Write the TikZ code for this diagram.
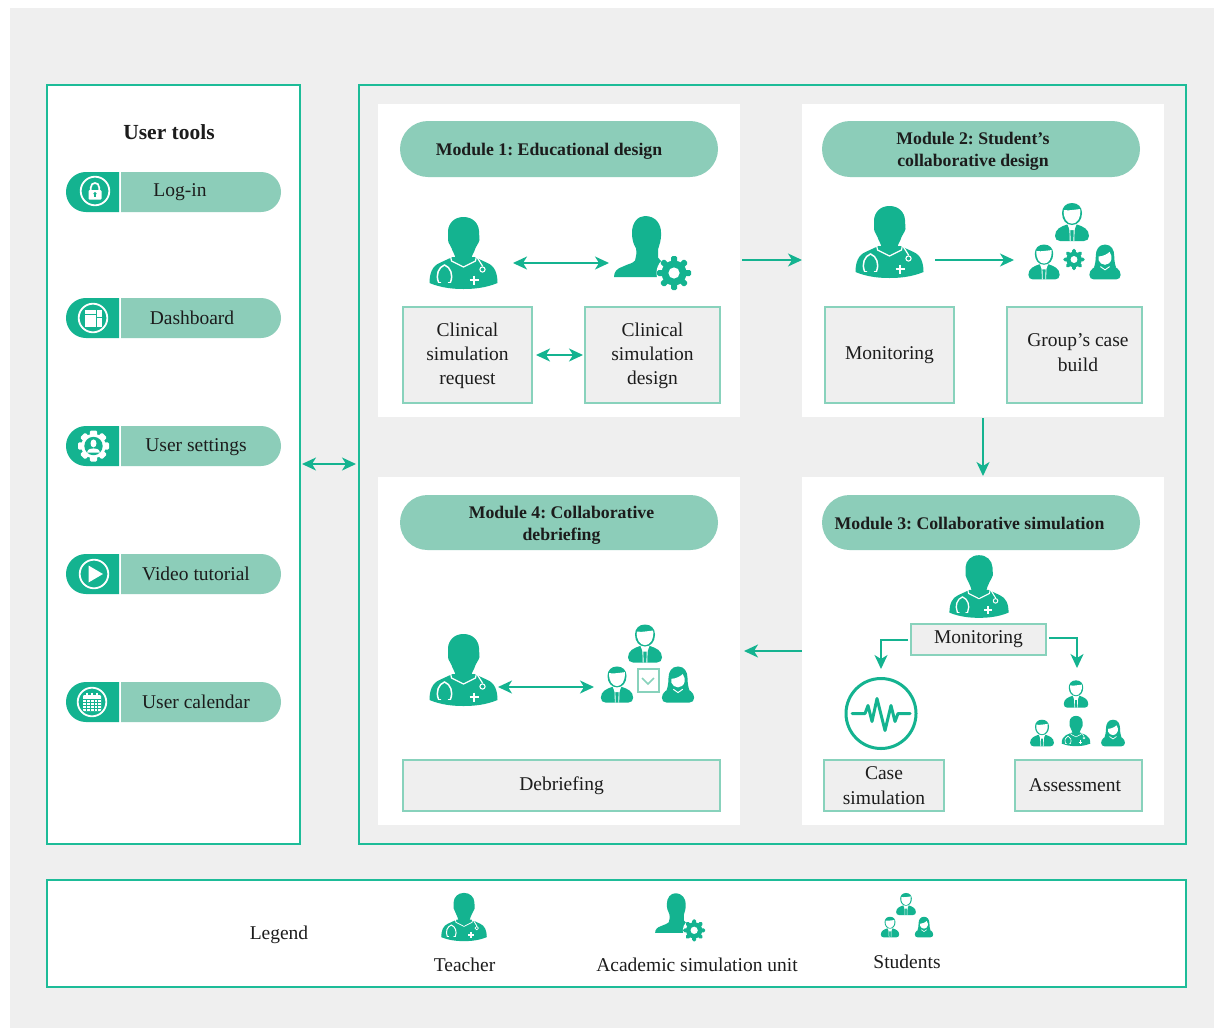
\documentclass[tikz,border=0pt]{standalone}
\usepackage{fontspec}
\setmainfont{Liberation Serif}
\usetikzlibrary{arrows.meta,shapes.misc}
\definecolor{tealc}{HTML}{14B390}
\definecolor{mint}{HTML}{8CCDB9}
\definecolor{edgec}{HTML}{1DBC98}
\definecolor{boxedge}{HTML}{88D2BC}
\definecolor{bgc}{HTML}{EFEFEF}
\definecolor{txt}{HTML}{1C1C1C}
\tikzset{
  body/.style={font=\fontsize{19.5}{24.3}\selectfont,text=txt,align=center,inner sep=0pt},
  headb/.style={font=\frenchspacing\bfseries\fontsize{17.75}{22}\selectfont,text=txt,align=center,inner sep=0pt},
  panel/.style={draw=edgec,line width=1.7pt,fill=white},
  mainpanel/.style={draw=edgec,line width=1.7pt,fill=bgc},
  modpanel/.style={draw=white,line width=1.7pt,fill=white},
  cbox/.style={draw=boxedge,line width=1.7pt,fill=bgc,body},
  modpill/.style={rounded rectangle,draw=mint,line width=1.7pt,fill=mint},
  toolpill/.style={rounded rectangle,rounded rectangle west arc=none,draw=mint,line width=1.7pt,fill=mint},
  conn/.style={draw=tealc,line width=1.6pt},
  one/.style={conn,-{Stealth[length=14pt,width=13pt,inset=4pt]}},
  both/.style={conn,{Stealth[length=14pt,width=13pt,inset=4pt]}-{Stealth[length=14pt,width=13pt,inset=4pt]}},
  ic/.style={fill=tealc},
  wl/.style={draw=white,line cap=round,line join=round},
}
\newcommand\bx[7][]{%
  \pgfmathsetmacro\cxx{(#3+#5)/2}\pgfmathsetmacro\cyy{(#4+#6)/2}%
  \node[#1,minimum width={(#5-#3-1.7)*1pt},minimum height={(#6-#4-1.7)*1pt},inner sep=0pt] (#2) at (\cxx,\cyy) {#7};}
% teacher
\newcommand\teacher[3]{\begin{scope}[shift={(#1,#2)},scale=#3]
  \fill[ic] (-34,30) .. controls (-34,20) and (-31,13) .. (-24,10) -- (-11,4) -- (11,4) -- (24,10)
     .. controls (31,13) and (34,20) .. (34,30) .. controls (22,35) and (10,36) .. (0,36)
     .. controls (-10,36) and (-22,35) .. (-34,30) -- cycle;
  \draw[wl,line width=#3*1.2pt] (-13,3) -- (-12,8) -- (0,14) -- (12,8) -- (13,3);
  \fill[ic] (0,-36) .. controls (9,-36) and (15,-30) .. (15.5,-22) -- (16,-13) .. controls (15,-9) and (13,-8) .. (12,-5)
     .. controls (11,-1) and (8,2) .. (8,6) -- (0,13) -- (-8,6) .. controls (-8,2) and (-11,-1) .. (-12,-5)
     .. controls (-13,-8) and (-15,-9) .. (-15.5,-13) -- (-15.5,-22) .. controls (-15,-30) and (-9,-36) .. (0,-36) -- cycle;
  \draw[wl,line width=#3*1.5pt] (-19,12) .. controls (-25,14) and (-28,22) .. (-25,29);
  \draw[wl,line width=#3*1.5pt] (-19,12) .. controls (-13,14) and (-10,22) .. (-13,29);
  \draw[wl,line width=#3*1.5pt] (-25,29.5) -- (-23,29.5) (-15,29.5) -- (-13,29.5);
  \draw[wl,line width=#3*1.2pt] (14,5) -- (19,13);
  \draw[wl,line width=#3*1.1pt] (19,16.5) circle (2.6);
  \draw[white,line width=#3*2.6pt] (6,27) -- (15,27) (10.5,22.5) -- (10.5,31.5);
\end{scope}}
% gear
\newcommand\gear[5]{\begin{scope}[shift={(#1,#2)},scale=#3]
  \fill[#4] (0,0) circle (12.5);
  \foreach \a in {0,45,...,315}{\fill[#4,rotate=\a,rounded corners=1.5pt] (-3,-17) rectangle (3,-8);}
  \fill[#5] (0,0) circle (5.6);
\end{scope}}
% academic unit
\newcommand\admin[3]{\begin{scope}[shift={(#1,#2)},scale=#3]
  \fill[ic] (-8,-36.5) .. controls (3,-36.5) and (8,-28) .. (8,-20) .. controls (8.5,-12) and (6,-7) .. (5,-3)
     -- (5,5) .. controls (8,9) and (12,12) .. (15,15) -- (6,24.5) -- (-39,24.5) .. controls (-39,19) and (-36,16) .. (-30,14)
     .. controls (-24,11) and (-20,11) .. (-18,8) .. controls (-17,4) and (-16,0) .. (-17,-4)
     .. controls (-20,-9) and (-21,-14) .. (-21,-20) .. controls (-21,-30) and (-15,-36.5) .. (-8,-36.5) -- cycle;
  \fill[white] (21,20.5) circle (17.5);
  \gear{21}{20.5}{1}{tealc}{white}
\end{scope}}
% male student
\newcommand\male[3]{\begin{scope}[shift={(#1,#2)},scale=#3]
  \fill[ic] (-17,14) .. controls (-17,7) and (-11,4.5) .. (-5,2.5) -- (5,2.5) .. controls (11,4.5) and (17,7) .. (17,14)
     .. controls (17,17) and (15,19) .. (12,19) -- (-12,19) .. controls (-15,19) and (-17,17) .. (-17,14) -- cycle;
  \fill[white] (-5,1) -- (5,1) -- (2.4,8) -- (-2.4,8) -- cycle;
  \draw[white,line width=#3*.9pt] (-2.2,7) -- (-1.8,19) (2.2,7) -- (1.8,19);
  \fill[ic] (0,-19) .. controls (6,-19) and (10,-15) .. (10,-9) .. controls (10,-2) and (6,3) .. (0,3)
     .. controls (-6,3) and (-10,-2) .. (-10,-9) .. controls (-10,-15) and (-6,-19) .. (0,-19) -- cycle;
  \fill[white] (-8.2,-12) .. controls (-5,-12) and (-2,-11) .. (0,-12) .. controls (3,-12) and (6,-13) .. (8.2,-13)
     .. controls (9,-4) and (5,1.7) .. (0,1.7) .. controls (-5,1.7) and (-9,-4) .. (-8.2,-12) -- cycle;
\end{scope}}
% female student
\newcommand\female[3]{\begin{scope}[shift={(#1,#2)},scale=#3]
  \fill[ic] (-17,14) .. controls (-17,8) and (-11,5) .. (-6,3) -- (6,3) .. controls (11,5) and (17,8) .. (17,14)
     .. controls (17,17) and (15,19) .. (12,19) -- (-12,19) .. controls (-15,19) and (-17,17) .. (-17,14) -- cycle;
  \fill[ic] (0,-19) .. controls (7,-19) and (10,-13) .. (10,-7) .. controls (10,-1) and (11,3) .. (12,6)
     -- (-12,6) .. controls (-11,3) and (-10,-1) .. (-10,-7) .. controls (-10,-13) and (-7,-19) .. (0,-19) -- cycle;
  \fill[white] (-7,-6) .. controls (-2,-6) and (3,-9) .. (5,-11) .. controls (7,-8) and (7.5,-5) .. (7,-3)
     .. controls (6,1) and (3,3) .. (0,3) .. controls (-3,3) and (-6,1) .. (-7,-2) -- cycle;
  \draw[white,line width=#3*1pt] (-5,5) -- (0,8.5) -- (5,5);
\end{scope}}
\newcommand\toolcap[2]{\fill[tealc] (119,#1) [rounded corners=19.9pt] -- (66,#1) -- (66,#2) [sharp corners] -- (119,#2) -- cycle;}
\begin{document}
\begin{tikzpicture}[x=1pt,y=-1pt]
\useasboundingbox (0,0) rectangle (1214,1028);
\fill[white] (0,0) rectangle (1214,1028);
\fill[bgc] (10,8) rectangle (1214,1028);
% panels
\bx[panel]{tools}{46}{84}{301}{845}{}
\bx[mainpanel]{main}{358}{84}{1187}{845}{}
\bx[modpanel]{mod1}{378}{104}{740}{417}{}
\bx[modpanel]{mod2}{802}{104}{1164}{417}{}
\bx[modpanel]{mod4}{378}{477}{740}{825}{}
\bx[modpanel]{mod3}{802}{477}{1164}{825}{}
\bx[panel]{legend}{46}{879}{1187}{988}{}
% user tools
\node[body,font=\bfseries\fontsize{21.5}{25}\selectfont] (tt) at (169,132) {User tools};
\coordinate (c1) at (95,191); \coordinate (c2) at (93,318); \coordinate (c3) at (93.5,446); \coordinate (c4) at (94,574); \coordinate (c5) at (92,702);
\toolcap{172}{212}\toolcap{298}{338}\toolcap{426}{466}\toolcap{554}{594}\toolcap{682}{722}
\draw[white,line width=1.8pt] (c1) circle (14.3) (c2) circle (14.3) (c4) circle (14.3) (c5) circle (14.3);
\bx[toolpill]{p1}{121}{172}{281}{212}{}
\bx[toolpill]{p2}{121}{298}{281}{338}{}
\bx[toolpill]{p3}{121}{426}{281}{466}{}
\bx[toolpill]{p4}{121}{554}{281}{594}{}
\bx[toolpill]{p5}{121}{682}{281}{722}{}
\node[body] (l1) at (180,192) {Log-in};
\node[body] (l2) at (192,317.5) {Dashboard};
\node[body] (l3) at (196,447.5) {User settings};
\node[body] (l4) at (196,574) {Video tutorial};
\node[body] (l5) at (196,702) {User calendar};
% lock
\begin{scope}[shift={(c1)}]
  \draw[white,line width=1.7pt] (-4.2,0) -- (-4.2,-3.5) .. controls (-4.2,-9.5) and (4.2,-9.5) .. (4.2,-3.5) -- (4.2,0);
  \fill[white,rounded corners=1pt] (-6.5,-1) rectangle (6.5,8.5);
  \fill[tealc] (0,2.6) circle (1.7); \fill[tealc] (-.8,2.6) rectangle (.8,6);
\end{scope}
% dashboard
\begin{scope}[shift={(c2)}]
  \fill[white] (-8,-8) rectangle (2.5,-4.5);
  \fill[white] (-8,-3) rectangle (2.5,8.5);
  \fill[white] (4,-8) rectangle (9,-1.5);
  \fill[white] (4,0) rectangle (9,8.5);
\end{scope}
% settings
\begin{scope}[shift={(c3)}]
  \foreach \a in {0,45,...,315}{\fill[white,rotate=\a,rounded corners=1.2pt] (-3.6,-15.5) rectangle (3.6,-8);}
  \fill[white] (0,0) circle (12.2);
  \fill[tealc] (0,0) circle (9.2);
  \fill[white] (0,-2.6) ellipse (3 and 4);
  \fill[white] (-6.5,6.5) .. controls (-5.5,2.8) and (-3,2.4) .. (0,2.4) .. controls (3,2.4) and (5.5,2.8) .. (6.5,6.5) -- cycle;
\end{scope}
% play
\fill[white,shift={(c4)}] (-5.5,-8.5) -- (9,0) -- (-5.5,8.5) -- cycle;
% calendar
\begin{scope}[shift={(c5)}]
  \fill[white,rounded corners=1pt] (-9,-7) rectangle (9,9);
  \draw[tealc,line width=.5pt] (-9,-3) -- (9,-3) (-9,.2) -- (9,.2) (-9,3.2) -- (9,3.2) (-9,6.2) -- (9,6.2)
     (-5.4,-3) -- (-5.4,9) (-1.8,-3) -- (-1.8,9) (1.8,-3) -- (1.8,9) (5.4,-3) -- (5.4,9);
  \draw[white,line width=1.3pt] (-5,-9.5) -- (-5,-6) (0,-9.5) -- (0,-6) (5,-9.5) -- (5,-6);
\end{scope}
% module pills
\bx[modpill]{mp1}{400}{121}{718}{177}{}
\bx[modpill]{mp2}{822}{121}{1140}{177}{}
\bx[modpill]{mp4}{400}{495}{718}{550}{}
\bx[modpill]{mp3}{822}{495}{1140}{550}{}
\node[headb] (mt1) at (549,151) {Module 1: Educational design};
\node[headb] (mt2) at (973,151.5) {Module 2: Student’s\\collaborative design};
\node[headb] (mt4) at (561.5,525) {Module 4: Collaborative\\debriefing};
\node[headb] (mt3) at (969.5,523.5) {Module 3: Collaborative simulation};
% module 1
\teacher{463.5}{253}{1}
\admin{653}{252.5}{1}
\coordinate (a1l) at (513,263); \coordinate (a1r) at (609,263);
\draw[both] (a1l) -- (a1r);
\bx[cbox]{b1}{402}{306}{533}{404}{}
\bx[cbox]{b2}{584}{306}{721}{404}{}
\node[body] (b1t) at (467.5,356) {Clinical\\simulation\\request};
\node[body] (b2t) at (652.5,356) {Clinical\\simulation\\design};
\draw[both,shorten <=3pt,shorten >=1pt] (b1.east) -- (b2.west);
% module 2
\teacher{889.5}{242}{1}
\coordinate (a2l) at (935,260); \coordinate (a2r) at (1014,260);
\draw[one] (a2l) -- (a2r);
\male{1072}{222}{1}
\male{1044}{262}{.92}
\female{1105}{262}{.92}
\gear{1074}{259.5}{.62}{tealc}{white}
\bx[cbox]{b3}{824}{306}{955}{404}{}
\node[body] (b3t) at (889.5,355) {Monitoring};
\bx[cbox]{b4}{1006}{306}{1143}{404}{}
\node[body] (b4t) at (1078,352.5) {Group’s case\\build};
% module 3
\teacher{979}{586.5}{.87}
\bx[cbox]{b5}{910}{623}{1047}{656}{}
\node[body] (b5t) at (978.5,639) {Monitoring};
\coordinate (m3l) at (881,669); \coordinate (m3r) at (1077,668);
\coordinate (b5l) at (908,640); \coordinate (b5r) at (1049,638);
\coordinate (k1) at (881,640); \coordinate (k2) at (1077,638);
\draw[one] (b5l) -- (k1) -- (m3l);
\draw[one] (b5r) -- (k2) -- (m3r);
\node[draw=tealc,line width=3pt,circle,minimum size=70pt,inner sep=0pt] (sim) at (881,713.5) {};
\draw[tealc,line width=3pt,line cap=round,line join=round,shift={(sim.center)}]
  (-29,0) -- (-16,0) -- (-13,-8) -- (-9,8) -- (-4,-15) -- (4,17) -- (10,-8) -- (14,8) -- (17,0) -- (29,0);
\male{1076}{694}{.72}
\male{1042}{733}{.7}
\female{1113}{733}{.7}
\teacher{1076}{731}{.42}
\bx[cbox]{b6}{823}{759}{945}{812}{Case\\simulation}
\bx[cbox]{b7}{1014}{759}{1143}{812}{}
\node[body] (b7t) at (1075,785) {Assessment};
% module 4
\teacher{463.5}{670}{1}
\coordinate (a4l) at (498,687); \coordinate (a4r) at (594,687);
\draw[both] (a4l) -- (a4r);
\male{645}{643.5}{1}
\male{617}{684.5}{.95}
\female{678}{684.5}{.95}
\node[draw=boxedge,line width=2pt,fill=white,minimum width=21pt,minimum height=23pt,inner sep=0pt] (chk) at (648,680) {};
\draw[boxedge,line width=1.6pt,shift={(chk.center)}] (-6,-2) -- (0,4) -- (6,-2);
\bx[cbox]{b8}{402}{759}{721}{812}{Debriefing}
% module arrows
\coordinate (m12a) at (742,260); \coordinate (m12b) at (802,260);
\draw[one] (m12a) -- (m12b);
\coordinate (m23a) at (983,418); \coordinate (m23b) at (983,476);
\draw[one] (m23a) -- (m23b);
\coordinate (m34a) at (802,651); \coordinate (m34b) at (744,651);
\draw[one] (m34a) -- (m34b);
\coordinate (ta) at (302,464); \coordinate (tb) at (356,464);
\draw[both] (ta) -- (tb);
% legend
\node[body] (lg) at (279,934.5) {Legend};
\teacher{464}{917}{.67}
\node[body] (lg1) at (464.5,964.5) {Teacher};
\admin{680.5}{917}{.65}
\node[body] (lg2) at (697,964.5) {Academic simulation unit};
\male{906}{904}{.58}
\male{890}{927}{.54}
\female{924}{927}{.54}
\node[body] (lg3) at (907,961.5) {Students};
\end{tikzpicture}
\end{document}
